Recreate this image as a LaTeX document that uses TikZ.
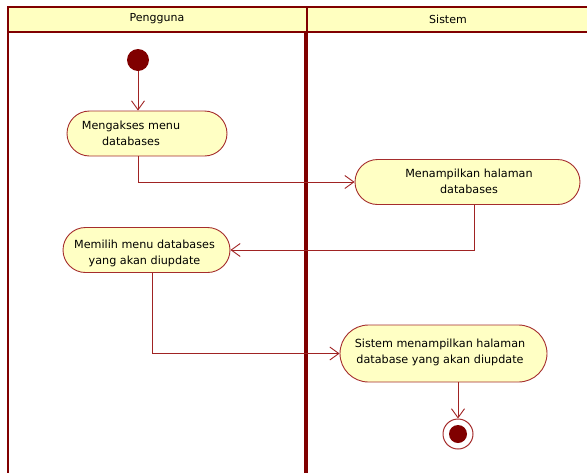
\documentclass[tikz,border=0pt]{standalone}
\usepackage{fontspec}
\setmainfont{DejaVu Sans}
\usetikzlibrary{arrows.meta}
\definecolor{darkred}{RGB}{128,0,0}
\definecolor{headfill}{RGB}{255,255,192}
\definecolor{actfill}{RGB}{255,255,196}
\definecolor{actborder}{RGB}{165,45,45}
\definecolor{flowcol}{RGB}{160,35,35}
\tikzset{
  act/.style={draw=actborder, fill=actfill, line width=0.9pt, rectangle},
  txt/.style={align=center, font=\fontsize{11.2}{16}\selectfont, inner sep=0pt},
  hdr/.style={font=\fontsize{11}{13}\selectfont, inner sep=0pt},
  flow/.style={draw=flowcol, line width=0.9pt, -{Straight Barb[length=9pt,width=13pt]}},
  startc/.style={circle, fill=darkred, minimum size=22pt, inner sep=0pt},
  endc/.style={circle, draw=actborder, fill=white, line width=1pt, minimum size=30pt, inner sep=0pt},
}
\begin{document}
\begin{tikzpicture}[x=1pt,y=-1pt]
\useasboundingbox (0,0) rectangle (587,472);
\begin{scope}
\clip (0,0) rectangle (587,472);
% swimlane frame
\fill[headfill] (8,7) rectangle (595,32);
\draw[darkred, line width=2.5pt] (595,7) -- (8,7) -- (8,480);
\draw[darkred, line width=2pt] (8,32) -- (595,32);
\draw[darkred, line width=1.5pt] (307,7) -- (307,32);
\draw[darkred, line width=4.5pt] (306,32) -- (306,480);
\end{scope}
\node[hdr] (h1) at (157,19) {Pengguna};
\node[hdr] (h2) at (448,19) {Sistem};
% activities
\node[startc] (s) at (138,60) {};
\node[act, minimum width=160pt, minimum height=45pt, rounded corners=22.5pt,
  label={[txt, xshift=-16pt]center:{Mengakses menu\\databases}}] (n1) at (147,133.5) {};
\node[act, minimum width=225pt, minimum height=45pt, rounded corners=22.5pt,
  label={[txt, xshift=1.5pt, yshift=1pt]center:{Menampilkan halaman\\databases}}] (n2) at (467.5,182) {};
\node[act, minimum width=167pt, minimum height=45pt, rounded corners=22.5pt,
  label={[txt, xshift=-2pt, yshift=-3pt]center:{Memilih menu databases\\yang akan diupdate}}] (n3) at (146.5,250) {};
\node[act, minimum width=207pt, minimum height=57pt, rounded corners=28.5pt,
  label={[txt, xshift=-3.5pt, yshift=1.5pt]center:{Sistem menampilkan halaman\\database yang akan diupdate}}] (n4) at (443.5,353.5) {};
\node[endc] (e) at (458,434) {};
\fill[darkred] (e.center) circle (9);
% flows
\coordinate (c1) at (138,0);
\coordinate (c2) at (474,0);
\coordinate (c3) at (152,0);
\draw[flow] (s) -- (s |- n1.north);
\draw[flow] (n1.south -| c1) |- (n2.west);
\draw[flow] (n2.south -| c2) |- (n3.east);
\draw[flow] (n3.south -| c3) |- (n4.west);
\draw[flow] (n4.south -| e) -- (e.north);
\end{tikzpicture}
\end{document}
